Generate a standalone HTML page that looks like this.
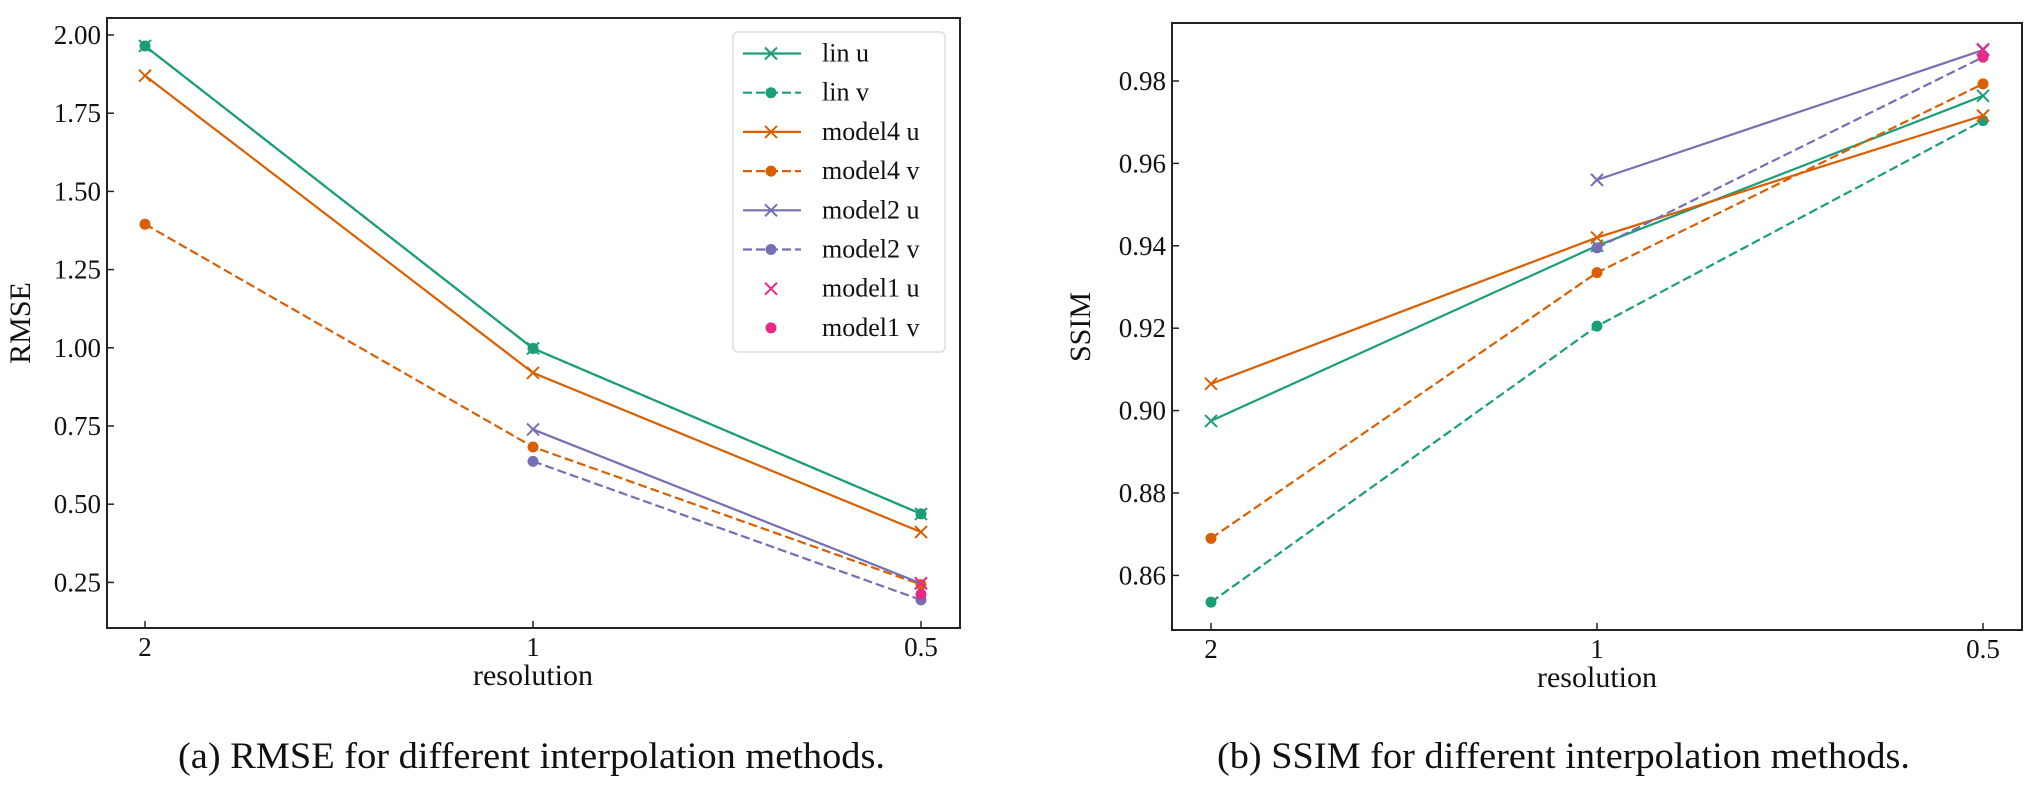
<!DOCTYPE html>
<html><head><meta charset="utf-8"><style>
html,body{margin:0;padding:0;background:#fff;}
svg{display:block;font-family:"Liberation Serif",serif;}
</style></head><body>
<svg id="fig" width="2041" height="797" viewBox="0 0 2041 797" xmlns="http://www.w3.org/2000/svg"></svg>
<script>
const categories = ["2", "1", "0.5"];
const seriesNames = ["lin u","lin v","model4 u","model4 v","model2 u","model2 v","model1 u","model1 v"];
const rmseLinU = [1.965, 0.998, 0.469];
const rmseLinV = [1.965, 0.998, 0.469];
const rmseM4U = [1.870, 0.920, 0.411];
const rmseM4V = [1.395, 0.683, 0.243];
const rmseM2U = [null, 0.739, 0.247];
const rmseM2V = [null, 0.637, 0.194];
const rmseM1U = [null, null, 0.247];
const rmseM1V = [null, null, 0.212];
const ssimLinU = [0.8975, 0.9400, 0.9764];
const ssimLinV = [0.8535, 0.9205, 0.9704];
const ssimM4U = [0.9065, 0.9420, 0.9716];
const ssimM4V = [0.8690, 0.9335, 0.9793];
const ssimM2U = [null, 0.9560, 0.9875];
const ssimM2V = [null, 0.9395, 0.9858];
const ssimM1U = [null, null, 0.9877];
const ssimM1V = [null, null, 0.9858];
const rmseTicks = [0.25, 0.50, 0.75, 1.00, 1.25, 1.50, 1.75, 2.00];
const ssimTicks = [0.86, 0.88, 0.90, 0.92, 0.94, 0.96, 0.98];

const NS = "http://www.w3.org/2000/svg";
const svg = document.getElementById("fig");
const colors = ["#1b9e77","#1b9e77","#d95f02","#d95f02","#7570b3","#7570b3","#e7298a","#e7298a"];
const dashed = [false,true,false,true,false,true,false,true];
const markers = ["x","o","x","o","x","o","x","o"];

function mk(tag, attrs, parent){
  const e = document.createElementNS(NS, tag);
  for (const k in attrs) e.setAttribute(k, attrs[k]);
  (parent||svg).appendChild(e);
  return e;
}
function marker(g, type, x, y, c){
  if (type === "o") {
    const m = mk("circle", {cx:x, cy:y, r:5.5, fill:c}, g);
    
    
  } else {
    const s = 6;
    const m = mk("path", {d:`M${x-s},${y-s}L${x+s},${y+s}M${x-s},${y+s}L${x+s},${y-s}`, stroke:c, "stroke-width":2, fill:"none"}, g);
    
    
  }
}

function drawPanel(p){
  const g = mk("g", {});
  
  
  const xScale = i => p.x0tick + i * p.xstep;
  const yScale = v => p.yref + (p.vref - v) * p.ypx;
  p.ticks.forEach(t => {
    const y = yScale(t);
    mk("line", {x1:p.L, x2:p.L+7, y1:y, y2:y, stroke:"#222", "stroke-width":1.5}, g);
    const tx = mk("text", {x:p.L-6, y:y+9, "text-anchor":"end", "font-size":27, fill:"#111"}, g);
    tx.textContent = t.toFixed(2);
    
    
  });
  categories.forEach((c, i) => {
    const x = xScale(i);
    mk("line", {x1:x, x2:x, y1:p.B, y2:p.B-7, stroke:"#222", "stroke-width":1.5}, g);
    const tx = mk("text", {x:x, y:p.B+28, "text-anchor":"middle", "font-size":27, fill:"#111"}, g);
    tx.textContent = c;
    
    
  });
  p.series.forEach((arr, si) => {
    const sg = mk("g", {}, g);
    
    
    const pts = [];
    arr.forEach((v, i) => { if (v !== null) pts.push([xScale(i), yScale(v)]); });
    if (pts.length > 1) {
      const ln = mk("polyline", {points:pts.map(q=>q.join(",")).join(" "), fill:"none", stroke:colors[si], "stroke-width":2.2, "stroke-dasharray": dashed[si] ? "9,4" : "none"}, sg);
      
      
    }
    pts.forEach(q => marker(sg, markers[si], q[0], q[1], colors[si]));
  });
  const fr = mk("rect", {x:p.L, y:p.T, width:p.R-p.L, height:p.B-p.T, fill:"none", stroke:"#222", "stroke-width":2}, g);
  
  
  const yl = mk("text", {x:p.ylx, y:p.yly, "text-anchor":"middle", "font-size":30, transform:`rotate(-90 ${p.ylx} ${p.yly})`, fill:"#111"}, g);
  yl.textContent = p.ylabel;
  
  
  const xl = mk("text", {x:xScale(1), y:p.B+57, "text-anchor":"middle", "font-size":30, fill:"#111"}, g);
  xl.textContent = "resolution";
  
  
  const cap = mk("text", {x:p.capx, y:768, "font-size":37, fill:"#111", textLength:p.capw, lengthAdjust:"spacingAndGlyphs"}, g);
  cap.textContent = p.caption;
  
  
}

drawPanel({name:"rmse-panel", L:107, T:18, R:960, B:628, x0tick:145, xstep:388,
  yref:35, vref:2.0, ypx:312.8, ticks:rmseTicks,
  series:[rmseLinU,rmseLinV,rmseM4U,rmseM4V,rmseM2U,rmseM2V,rmseM1U,rmseM1V],
  ylabel:"RMSE", ylx:30, yly:323, caption:"(a) RMSE for different interpolation methods.", capx:178, capw:707});
drawPanel({name:"ssim-panel", L:1172, T:23, R:2022, B:630, x0tick:1211, xstep:386,
  yref:81, vref:0.98, ypx:4120, ticks:ssimTicks,
  series:[ssimLinU,ssimLinV,ssimM4U,ssimM4V,ssimM2U,ssimM2V,ssimM1U,ssimM1V],
  ylabel:"SSIM", ylx:1090, yly:327, caption:"(b) SSIM for different interpolation methods.", capx:1217, capw:693});

const lg = mk("g", {});


mk("rect", {x:733, y:32, width:212, height:320, rx:5, fill:"#fff", "fill-opacity":0.8, stroke:"#ddd", "stroke-width":1.5}, lg);
seriesNames.forEach((n, i) => {
  const y = 53.5 + i * 39.2;
  const e = mk("g", {}, lg);
  
  
  if (i < 6) mk("line", {x1:743, x2:801, y1:y, y2:y, stroke:colors[i], "stroke-width":2.2, "stroke-dasharray": dashed[i] ? "9,4" : "none"}, e);
  marker(e, markers[i], 771, y, colors[i]);
  const t = mk("text", {x:822, y:y+8, "font-size":26, fill:"#111"}, e);
  t.textContent = n;
});
</script>
</body></html>
